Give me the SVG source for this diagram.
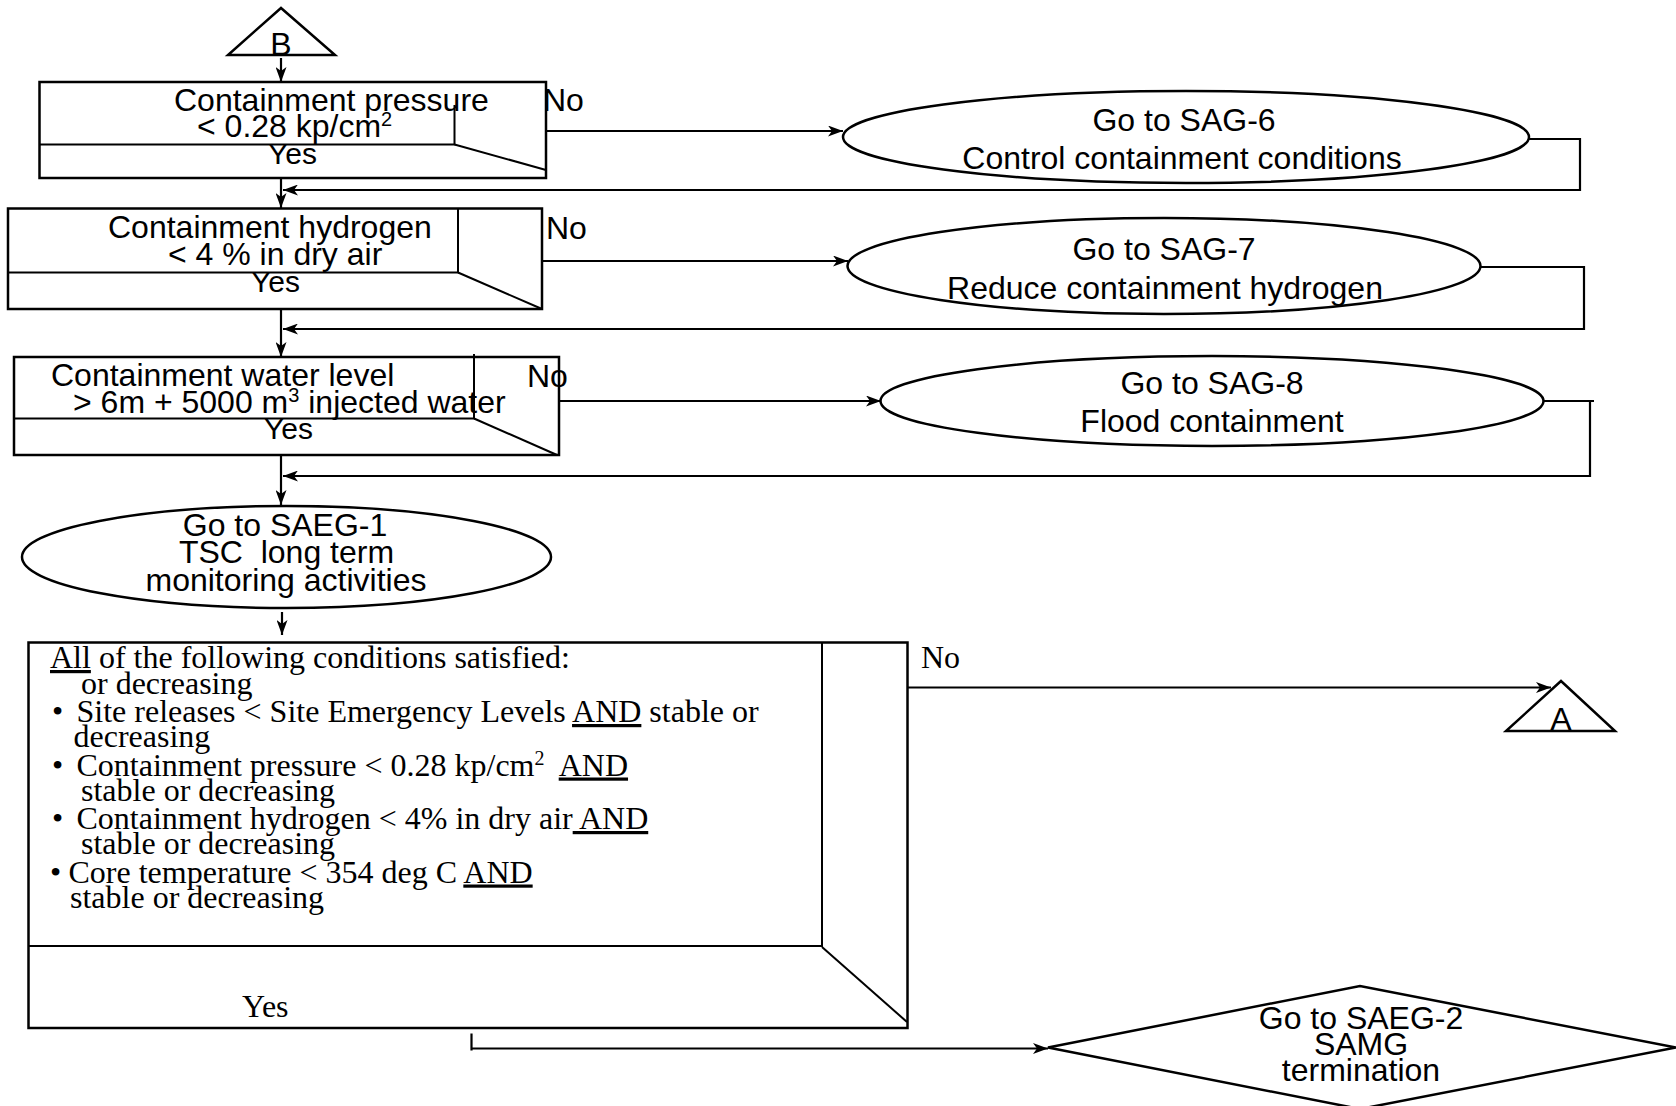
<svg xmlns="http://www.w3.org/2000/svg" width="1676" height="1106" viewBox="0 0 1676 1106">
  <defs>
    <style>
      .shape { fill: #fff; stroke: #000; stroke-width: 2.5; }
      .inner { fill: none; stroke: #000; stroke-width: 2; }
      .wire { fill: none; stroke: #000; stroke-width: 2.2; }
      .sans { font-family: "Liberation Sans", Arial, sans-serif; font-size: 32px; fill: #000; }
      .serif { font-family: "Liberation Serif", "Times New Roman", serif; font-size: 32px; fill: #000; }
      .mid { text-anchor: middle; }
      .yes { font-size: 30px; }
      .sup { font-size: 20px; }
      .ul { text-decoration: underline; }
    </style>
    <marker id="arrow" viewBox="0 0 15 11" refX="15" refY="5.5" markerWidth="15" markerHeight="11" markerUnits="userSpaceOnUse" orient="auto">
      <path d="M0,0 L15,5.5 L0,11 L4,5.5 z" fill="#000"/>
    </marker>
  </defs>
  <rect width="1676" height="1106" fill="#fff"/>

  <!-- connectors -->
  <g id="connectors" class="wire">
    <line x1="281" y1="58" x2="281" y2="82" marker-end="url(#arrow)"/>
    <line x1="281" y1="171" x2="281" y2="208" marker-end="url(#arrow)"/>
    <line x1="540" y1="131" x2="843" y2="131" marker-end="url(#arrow)"/>
    <polyline points="1529,139 1580,139 1580,190 283,190" marker-end="url(#arrow)"/>
    <line x1="281" y1="309" x2="281" y2="357" marker-end="url(#arrow)"/>
    <line x1="542" y1="261" x2="848" y2="261" marker-end="url(#arrow)"/>
    <polyline points="1480,267 1584,267 1584,329 283,329" marker-end="url(#arrow)"/>
    <line x1="281" y1="455" x2="281" y2="505" marker-end="url(#arrow)"/>
    <line x1="559" y1="401" x2="881" y2="401" marker-end="url(#arrow)"/>
    <polyline points="1543,401 1594,401"/>
    <polyline points="1590,401 1590,476 283,476" marker-end="url(#arrow)"/>
    <line x1="282" y1="612" x2="282" y2="635" marker-end="url(#arrow)"/>
    <line x1="907" y1="687.5" x2="1551" y2="687.5" marker-end="url(#arrow)"/>
    <line x1="471.5" y1="1033.5" x2="471.5" y2="1050.5"/>
    <line x1="471.5" y1="1048.5" x2="1048" y2="1048.5" marker-end="url(#arrow)"/>
  </g>

  <!-- off-page connector B -->
  <g id="connector-b">
    <polygon class="shape" points="281,8 228,55 335,55"/>
    <text class="sans mid" x="281" y="55" font-size="30">B</text>
  </g>

  <!-- decision: containment pressure -->
  <g id="check-pressure">
    <rect class="shape" x="39.5" y="82" width="506.5" height="96"/>
    <polyline class="inner" points="39.5,144.5 454.5,144.5 454.5,105"/>
    <line class="inner" x1="454.5" y1="144.5" x2="546" y2="170"/>
    <text class="sans" x="174" y="111">Containment pressure</text>
    <text class="sans" x="197" y="137">&lt; 0.28 kp/cm<tspan class="sup" dy="-11">2</tspan></text>
    <text class="sans yes" x="268" y="164">Yes</text>
    <text class="sans" x="543" y="111">No</text>
  </g>

  <g id="sag-6">
    <ellipse class="shape" cx="1186" cy="137" rx="343" ry="46"/>
    <text class="sans mid" x="1184" y="131">Go to SAG-6</text>
    <text class="sans mid" x="1182" y="169">Control containment conditions</text>
  </g>

  <!-- decision: containment hydrogen -->
  <g id="check-hydrogen">
    <rect class="shape" x="8" y="208.5" width="534" height="100.5"/>
    <polyline class="inner" points="8,272.5 458,272.5 458,208.5"/>
    <line class="inner" x1="458" y1="272.5" x2="542" y2="309"/>
    <text class="sans" x="108" y="238">Containment hydrogen</text>
    <text class="sans" x="168" y="265">&lt; 4 % in dry air</text>
    <text class="sans yes" x="251" y="292">Yes</text>
    <text class="sans" x="546" y="239">No</text>
  </g>

  <g id="sag-7">
    <ellipse class="shape" cx="1164" cy="266" rx="316.5" ry="48"/>
    <text class="sans mid" x="1164" y="260">Go to SAG-7</text>
    <text class="sans mid" x="1165" y="299">Reduce containment hydrogen</text>
  </g>

  <!-- decision: containment water level -->
  <g id="check-water">
    <rect class="shape" x="14" y="357" width="545" height="98"/>
    <polyline class="inner" points="14,418.5 474,418.5 474,354"/>
    <line class="inner" x1="474" y1="418.5" x2="557" y2="455"/>
    <text class="sans" x="51" y="386">Containment water level</text>
    <text class="sans" x="73" y="413">&gt; 6m + 5000 m<tspan class="sup" dy="-11">3</tspan><tspan dy="11"> injected water</tspan></text>
    <text class="sans yes" x="264" y="439">Yes</text>
    <text class="sans" x="527" y="387">No</text>
  </g>

  <g id="sag-8">
    <ellipse class="shape" cx="1212" cy="401" rx="331.5" ry="45"/>
    <text class="sans mid" x="1212" y="394">Go to SAG-8</text>
    <text class="sans mid" x="1212" y="432">Flood containment</text>
  </g>

  <g id="saeg-1">
    <ellipse class="shape" cx="286.5" cy="557" rx="264.5" ry="51"/>
    <text class="sans mid" x="285" y="536">Go to SAEG-1</text>
    <text class="sans mid" x="286.5" y="563" xml:space="preserve">TSC  long term</text>
    <text class="sans mid" x="286" y="591">monitoring activities</text>
  </g>

  <!-- decision: all exit conditions -->
  <g id="check-exit">
    <rect class="shape" x="28.5" y="642.5" width="879" height="385.5"/>
    <polyline class="inner" points="28.5,946 822,946 822,642.5"/>
    <line class="inner" x1="822" y1="947" x2="907" y2="1022"/>
    <text class="serif" x="50" y="668"><tspan class="ul">All</tspan> of the following conditions satisfied:</text>
    <text class="serif" x="81" y="694">or decreasing</text>
    <text class="serif" y="722"><tspan x="52">•</tspan><tspan x="76.5">Site releases &lt; Site Emergency Levels </tspan><tspan class="ul">AND</tspan> stable or</text>
    <text class="serif" x="73.5" y="747">decreasing</text>
    <text class="serif" y="775.5" xml:space="preserve"><tspan x="52">•</tspan><tspan x="76.5">Containment pressure &lt; 0.28 kp/cm</tspan><tspan class="sup" dy="-11">2</tspan><tspan dy="11">  </tspan><tspan class="ul">AND</tspan></text>
    <text class="serif" x="81" y="800.5">stable or decreasing</text>
    <text class="serif" y="829" xml:space="preserve"><tspan x="52">•</tspan><tspan x="76.5">Containment hydrogen &lt; 4% in dry air</tspan><tspan class="ul"> AND</tspan></text>
    <text class="serif" x="81" y="854">stable or decreasing</text>
    <text class="serif" y="882.5"><tspan x="50">•</tspan><tspan x="68.5">Core temperature &lt; 354 deg C </tspan><tspan class="ul">AND</tspan></text>
    <text class="serif" x="70" y="908">stable or decreasing</text>
    <text class="serif" x="242" y="1016.5" font-size="30">Yes</text>
    <text class="serif" x="921" y="668">No</text>
  </g>

  <!-- off-page connector A -->
  <g id="connector-a">
    <polygon class="shape" points="1561,681 1506,731 1615,731"/>
    <text class="sans mid" x="1561" y="730" font-size="30">A</text>
  </g>

  <g id="saeg-2">
    <polygon class="shape" points="1048,1047.5 1360,986 1676,1047.5 1360,1109"/>
    <text class="sans mid" x="1361" y="1029">Go to SAEG-2</text>
    <text class="sans mid" x="1361" y="1055">SAMG</text>
    <text class="sans mid" x="1361" y="1081">termination</text>
  </g>
</svg>
